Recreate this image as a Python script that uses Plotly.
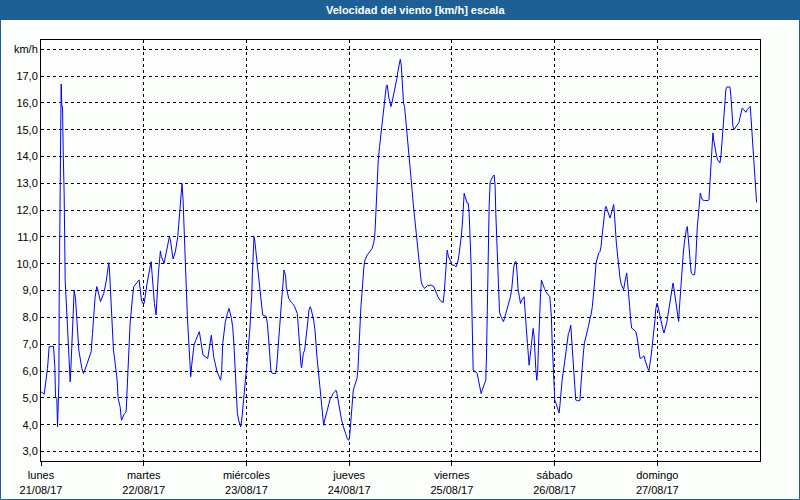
import pandas as pd
import plotly.graph_objects as go

# ---- data -------------------------------------------------------------
start_date = "2017-08-21"
hours = [
    0.0, 0.75, 1.52, 1.91, 2.92, 3.24, 3.39, 3.70, 3.86, 4.01, 4.17, 4.25, 4.40, 4.56, 4.71, 4.87,
    5.03, 5.18, 5.41, 5.65, 6.04, 6.35, 6.58, 6.82, 6.97, 7.20, 7.44, 7.75, 8.06, 8.37, 8.84, 9.54,
    9.93, 10.78, 11.72, 12.03, 12.34, 12.65, 13.04, 13.20, 13.90, 14.67, 15.22, 15.84, 16.00, 16.31,
    16.62, 16.93, 17.24, 17.79, 18.02, 18.49, 18.80, 19.50, 19.89, 20.12, 20.35, 20.59, 20.82, 21.36,
    21.67, 22.92, 23.15, 23.47, 23.78, 24.09, 24.79, 25.41, 25.72, 25.95, 26.19, 26.50, 26.89, 27.04,
    27.43, 27.90, 28.13, 28.76, 29.38, 30.00, 30.23, 30.86, 31.40, 31.95, 32.18, 32.49, 32.72, 32.95,
    33.19, 33.42, 33.66, 33.97, 34.20, 34.51, 34.75, 34.98, 35.21, 35.76, 36.15, 37.00, 37.31, 37.86,
    38.95, 39.80, 40.35, 41.13, 41.98, 42.21, 42.46,
    43.08, 43.55, 43.94, 44.48, 44.79, 45.11, 45.42, 45.65, 45.88, 46.19, 46.66, 46.97, 47.28, 47.60,
    47.91, 48.14, 48.37, 48.61, 48.84, 49.07, 49.23, 49.39, 49.62, 49.77, 49.93, 50.09, 50.32, 50.55,
    50.79, 51.10, 51.33, 51.56, 51.80, 52.65, 52.89, 53.20, 53.51, 53.74, 54.21, 54.83, 55.07, 55.30,
    55.53, 55.77, 56.00, 56.23, 56.55, 56.78, 57.01, 57.17, 57.32, 57.56, 57.87, 58.33, 58.80, 59.27,
    59.66, 59.89, 60.12, 60.28, 60.51, 60.75, 60.90, 61.06, 61.29, 61.60, 61.91, 62.15, 62.38, 62.61,
    62.93, 63.16, 63.39, 63.70, 64.02, 64.25, 64.48, 64.79, 65.10, 65.34, 65.57, 65.80, 66.04, 66.27,
    66.58, 66.89, 67.28, 67.60, 67.91, 68.22, 68.61, 68.92, 69.15, 69.39, 69.62, 69.93, 70.24, 70.55,
    70.86, 71.18, 71.56, 71.88, 72.11, 72.26, 72.50, 72.73, 72.97, 73.20, 73.51, 73.82, 74.05, 74.29,
    74.52, 74.75, 74.99, 75.22, 75.45, 75.69, 76.23, 76.86, 77.40, 77.79, 77.95, 78.10, 78.26, 78.41,
    78.57, 78.80, 79.11, 79.35, 79.58, 79.81, 80.05, 80.28, 80.51, 80.67, 80.90, 81.06, 81.29, 81.53,
    81.76, 81.99, 82.30, 82.61, 82.93, 83.16, 83.39, 83.63, 83.94,
    84.17, 84.32, 84.56, 84.71, 84.95, 85.18, 85.34, 85.57, 85.80, 86.04, 86.27, 86.50, 86.74, 86.97,
    87.20, 87.44, 87.67, 87.90, 88.14, 88.37, 88.60, 88.84, 89.07, 89.30, 89.62, 90.24, 91.17, 91.79,
    92.11, 92.42, 92.73, 93.04, 93.35, 93.66, 93.97, 94.21, 94.44, 94.67, 94.91, 95.06, 95.22, 95.61,
    96.07, 96.54, 97.01, 97.24, 97.48, 97.71, 97.94, 98.18, 98.41, 98.64, 98.88, 99.11, 99.34, 99.58,
    99.81, 100.04, 100.28, 100.51, 100.67, 100.82, 100.98, 101.60, 101.91, 102.22, 102.46, 102.85,
    103.08, 103.31, 103.62, 103.93, 104.09, 104.25, 104.48, 104.71, 104.95, 105.26, 105.57, 105.88,
    106.11, 106.27, 106.50, 106.74, 106.89, 107.13, 107.51, 107.83, 108.06, 108.29, 108.60, 108.91,
    109.30, 109.69, 110.00, 110.24, 110.47, 110.78, 111.02, 111.25, 111.48, 111.79, 112.03, 112.34,
    112.57, 112.88, 113.04, 113.27, 113.43, 113.66, 113.82, 114.05, 114.28, 114.52, 114.75, 114.99,
    115.22, 115.37, 115.61, 115.84, 116.07, 116.23, 116.46, 116.70, 116.93, 117.16, 117.40, 117.63,
    117.94, 118.25, 118.56, 118.88, 119.03, 119.26, 119.42, 119.65, 119.81, 120.04, 120.35, 120.59,
    120.82, 121.06, 121.29, 121.52, 121.76, 121.99, 122.30, 122.53, 122.77, 123.00, 123.23, 123.55,
    123.78, 124.01, 124.25, 124.48, 124.71, 124.95, 125.41, 125.92,
    126.19, 126.42, 126.73, 126.97, 127.28, 127.59, 127.90, 128.21, 128.52, 128.83, 129.15, 129.46,
    129.69, 130.00, 130.31, 130.62, 130.86, 131.09, 131.32, 131.56, 131.79, 132.02, 132.49, 132.96,
    133.50, 133.81, 133.97, 134.20, 134.44, 134.75, 134.98, 135.29, 135.60, 135.92, 136.15, 136.38,
    136.62, 136.85, 137.08, 137.32, 137.55, 137.78, 138.02, 138.33, 138.64, 138.95, 139.26, 139.50,
    139.73, 139.96, 140.20, 140.58, 140.90, 141.13, 141.44, 141.75, 142.06, 142.30, 142.53, 142.76,
    143.00, 143.23, 143.46, 143.62, 143.78, 143.93, 144.17, 144.40, 144.63, 144.87, 145.10, 145.33,
    145.57, 145.80, 146.03, 146.27, 146.50, 146.73, 146.97, 147.20, 147.43, 147.67, 147.82, 148.05,
    148.29, 148.52, 148.75, 148.99, 149.14, 149.38, 149.61, 149.84, 150.08, 150.31, 150.55, 150.78,
    151.01, 151.25, 151.48, 151.71, 151.95, 152.33, 152.72, 152.96, 153.11, 153.35, 153.58, 153.81,
    154.05, 154.28, 154.51, 154.98, 155.45, 155.92, 156.07, 156.30, 156.54, 156.77, 157.00, 157.16,
    157.39, 157.63, 157.86, 158.09, 158.33, 158.64, 158.87, 159.11, 159.34, 159.57, 159.81, 160.04,
    160.27, 160.97, 161.21, 161.44, 161.67, 161.91, 162.14, 162.45, 162.76, 163.08, 163.31, 163.54,
    163.85, 164.16, 164.48, 164.71, 165.02, 165.33, 165.72, 165.88, 166.11, 166.34, 166.58, 166.73,
    166.89, 167.04, 167.20,
]
speed = [
    5.23, 5.14, 6.10, 6.91, 6.93, 6.16, 5.04, 4.98, 3.92, 5.54, 5.54, 8.71, 11.88, 15.09, 16.70, 15.86,
    15.86, 14.25, 12.63, 9.39, 8.21, 7.53, 6.72, 5.60, 6.04, 6.91, 8.03, 9.02, 8.71, 7.78, 6.78, 6.10,
    5.91, 6.28, 6.72, 7.40, 8.03, 8.77, 9.15, 9.08, 8.59, 8.90, 9.33, 10.04, 9.77, 8.65,
    7.65, 6.78, 6.41, 5.67, 4.98, 4.67, 4.17, 4.42, 4.48, 5.41, 5.91, 6.78, 7.78, 8.71,
    9.15, 9.40, 9.02, 8.65, 8.52, 8.52, 9.27, 9.89, 10.08, 9.64, 9.02, 8.52, 8.09, 8.65,
    9.64, 10.48, 10.27, 10.02, 10.51, 11.01, 10.89, 10.18, 10.45, 11.01, 11.45, 12.01, 12.69, 13.00,
    12.38, 11.20, 10.02, 8.96, 8.03, 7.15, 6.22, 5.79, 6.22, 6.97, 7.15, 7.47, 7.15, 6.60,
    6.47, 7.34, 6.53, 5.98, 5.66, 5.98, 7.03,
    7.84, 8.15, 8.34, 7.97, 7.65, 6.91, 5.79, 4.92, 4.42, 4.17, 3.92, 4.29, 4.92, 5.41,
    5.91, 6.28, 6.66, 7.03, 7.65, 8.40, 8.77, 9.64, 10.39, 11.01, 10.89, 10.64, 10.26, 10.01,
    9.64, 9.14, 8.65, 8.28, 8.09, 8.03, 7.78, 7.16, 6.41, 5.97, 5.91, 5.91, 6.16, 6.53,
    7.16, 7.65, 8.03, 8.65, 9.27, 9.77, 9.64, 9.52, 9.14, 8.90, 8.71, 8.59, 8.52, 8.40,
    8.28, 8.15, 7.65, 7.16, 6.60, 6.22, 6.12, 6.41, 6.66, 6.78, 7.16, 7.53, 7.90, 8.28,
    8.40, 8.28, 8.15, 7.90, 7.53, 6.91, 6.53, 6.04, 5.48, 5.04, 4.67, 4.29, 3.98, 4.17,
    4.42, 4.54, 4.79, 4.98, 5.04, 5.16, 5.23, 5.29, 5.16, 4.92, 4.67, 4.42, 4.17, 3.98,
    3.86, 3.67, 3.48, 3.42, 3.55, 3.92, 4.54, 4.98, 5.29, 5.41, 5.54, 5.72, 6.04, 6.97,
    7.90, 8.40, 8.90, 9.52, 9.89, 10.14, 10.33, 10.46, 10.58, 10.83, 11.01, 11.38, 12.01, 12.87,
    13.37, 13.87, 14.37, 14.75, 14.99, 15.24, 15.74, 16.05, 16.42, 16.61, 16.67, 16.42, 16.17, 16.05,
    15.86, 15.99, 16.24, 16.36, 16.61, 16.92, 17.17, 17.35, 17.62,
    17.42, 16.98, 16.61, 15.99, 15.86, 15.49, 15.05, 14.74, 14.37, 14.00, 13.50, 13.12, 12.69, 12.25,
    11.88, 11.63, 11.26, 10.89, 10.51, 10.14, 9.64, 9.33, 9.21, 9.15, 9.08, 9.18, 9.21, 9.15,
    9.05, 8.90, 8.77, 8.67, 8.62, 8.59, 8.56, 8.90, 9.39, 10.14, 10.51, 10.39, 10.26, 10.14,
    9.95, 9.95, 9.89, 10.01, 10.14, 10.39, 10.64, 11.01, 11.38, 12.01, 12.63, 12.50, 12.38, 12.26,
    12.26, 11.88, 10.89, 9.89, 8.40, 7.16, 6.04, 5.97, 5.91, 5.66, 5.41, 5.16,
    5.29, 5.41, 5.54, 5.66, 6.53, 8.40, 10.26, 12.13, 13.06, 13.19, 13.25, 13.31,
    12.88, 11.88, 10.89, 9.77, 8.77, 8.21, 8.02, 7.90, 7.84, 7.96, 8.15, 8.34,
    8.52, 8.77, 9.08, 9.64, 9.89, 10.08, 10.08, 9.64, 9.02, 8.77, 8.52, 8.65,
    8.71, 8.77, 8.40, 8.02, 7.53, 7.03, 6.66, 6.22, 6.53, 6.91, 7.28, 7.59,
    7.28, 6.66, 6.10, 5.66, 6.04, 6.91, 8.02, 8.77, 9.39, 9.27, 9.15, 9.08,
    8.96, 8.90, 8.83, 8.77, 8.52, 8.02, 7.16, 6.16, 5.41, 4.92, 4.79, 4.67,
    4.54, 4.44, 4.79, 5.29, 5.66, 5.91, 6.28, 6.53, 6.91, 7.16, 7.40, 7.53,
    7.71, 7.16, 6.53, 5.91, 5.41, 4.92, 4.89, 4.91,
    5.55, 6.17, 6.67, 7.04, 7.23, 7.42, 7.66, 7.91, 8.10, 8.41, 8.91, 9.53,
    10.03, 10.21, 10.40, 10.46, 10.65, 11.02, 11.40, 11.71, 12.02, 12.14, 11.89, 11.71,
    12.02, 12.21, 11.89, 11.27, 10.77, 10.28, 9.78, 9.47, 9.22, 9.10, 9.03, 9.28,
    9.53, 9.66, 9.28, 8.91, 8.41, 7.91, 7.60, 7.57, 7.54, 7.48, 7.29, 6.92,
    6.61, 6.48, 6.48, 6.54, 6.57, 6.42, 6.23, 6.11, 6.02, 6.23, 6.54, 6.85,
    7.16, 7.54, 7.91, 8.28, 8.47, 8.53, 8.41, 8.22, 8.03, 7.85, 7.66, 7.54,
    7.42, 7.54, 7.66, 7.85, 8.10, 8.35, 8.66, 8.91, 9.10, 9.28, 9.16, 8.91,
    8.53, 8.22, 8.03, 7.85, 8.28, 8.91, 9.53, 10.03, 10.40, 10.77, 11.15, 11.27,
    11.39, 11.02, 10.52, 10.03, 9.65, 9.59, 9.59, 10.03, 10.65, 11.39, 11.77, 12.26,
    12.64, 12.51, 12.39, 12.36, 12.36, 12.36, 12.39, 13.01, 13.76, 14.38, 14.88, 14.63,
    14.38, 14.19, 14.01, 13.88, 13.82, 13.76, 14.01, 14.51, 15.13, 15.75, 16.25, 16.50,
    16.59, 16.59, 16.25, 15.62, 15.13, 15.00, 15.06, 15.13, 15.19, 15.27, 15.44, 15.62,
    15.81, 15.75, 15.69, 15.65, 15.75, 15.81, 15.87, 15.50, 14.88, 14.25, 14.01, 13.51,
    13.01, 12.51, 12.29,
]
day_names = ["lunes", "martes", "miércoles", "jueves", "viernes", "sábado", "domingo"]
day_dates = ["21/08/17", "22/08/17", "23/08/17", "24/08/17", "25/08/17", "26/08/17", "27/08/17"]
y_ticks = list(range(3, 19))
y_unit = "km/h"
title_text = "Velocidad del viento [km/h] escala"

# ---- figure -----------------------------------------------------------
t0 = pd.Timestamp(start_date)
times = [t0 + pd.to_timedelta(h, unit="h") for h in hours]
day_ticks = [t0 + pd.Timedelta(days=i) for i in range(len(day_names))]
x_end = t0 + pd.Timedelta(days=7)

y_ticktext = [f"{v},0" for v in y_ticks[:-1]] + [y_unit]

W, H = 800, 500
ML, MR, MT, MB = 41, 40, 40, 39
PW, PH = W - ML - MR, H - MT - MB


def px_x(p):
    return (p - ML) / PW


def px_y(p):
    return (H - MB - p) / PH


BG = "#fcfefc"
BAR = "#1e6096"
FONT = "Liberation Sans, Arial, sans-serif"

fig = go.Figure()
fig.add_trace(go.Scatter(x=times, y=speed, mode="lines",
                         line=dict(color="#0000ff", width=1),
                         hoverinfo="skip", showlegend=False))

fig.update_layout(
    width=W, height=H, autosize=False,
    margin=dict(l=ML, r=MR, t=MT, b=MB, pad=0, autoexpand=False),
    paper_bgcolor=BG, plot_bgcolor=BG,
    font=dict(family=FONT, size=11, color="#000000"),
    xaxis=dict(
        type="date", range=[t0, x_end], automargin=False,
        tickmode="array", tickvals=day_ticks,
        ticktext=[f"{n}<br>{d}" for n, d in zip(day_names, day_dates)],
        showgrid=True, gridcolor="#000000", gridwidth=1, griddash="3px,3px",
        showline=True, linecolor="#000000", linewidth=1, mirror=True,
        ticks="outside", ticklen=4, tickcolor="#000000",
        zeroline=False, fixedrange=True,
    ),
    yaxis=dict(
        range=[2.649, 18.343], automargin=False,
        tickmode="array", tickvals=y_ticks, ticktext=y_ticktext,
        showgrid=True, gridcolor="#000000", gridwidth=1, griddash="3px,3px",
        showline=True, linecolor="#000000", linewidth=1, mirror=True,
        ticks="", zeroline=False, fixedrange=True,
    ),
    shapes=[
        dict(type="rect", xref="paper", yref="paper",
             x0=px_x(0), x1=px_x(W), y0=px_y(20), y1=px_y(0),
             fillcolor=BAR, line=dict(width=0), layer="below"),
        dict(type="rect", xref="paper", yref="paper",
             x0=px_x(0.5), x1=px_x(W - 0.5), y0=px_y(H - 0.5), y1=px_y(0.5),
             line=dict(color=BAR, width=1), fillcolor="rgba(0,0,0,0)"),
    ],
    annotations=[
        dict(text=f"<b>{title_text}</b>", xref="paper", yref="paper",
             x=px_x(415), y=px_y(10), xanchor="center", yanchor="middle",
             showarrow=False, font=dict(family=FONT, size=11, color="#ffffff")),
    ],
)

fig.write_html("out.html", config={"displayModeBar": False},
               post_script="document.body.style.margin='0';document.body.style.padding='0';"
                           "document.body.style.overflow='hidden';")
